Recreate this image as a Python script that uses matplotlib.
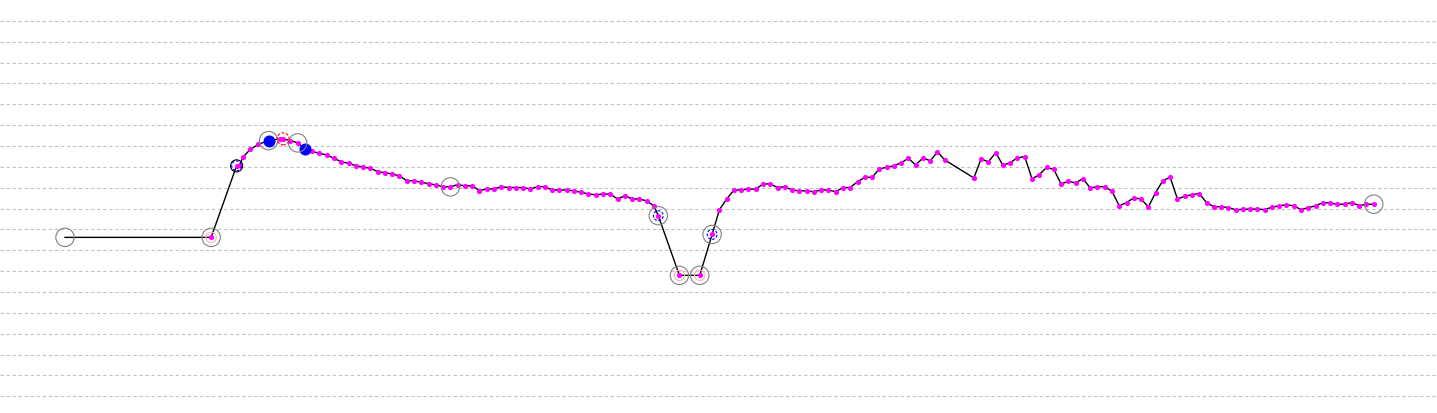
import matplotlib
matplotlib.use("Agg")
import matplotlib.pyplot as plt

# sample position (x) and value (y) of the track
x = [0, 20.1, 23.6, 24.0, 24.5, 25.5, 26.6, 28, 29.6, 30, 31, 32, 33,
     34, 35, 36, 37, 38, 39, 40, 41, 42, 43, 44, 45, 46, 47, 48, 49, 50,
     51, 52, 53, 54, 55, 56, 57, 58, 59, 60, 61, 62, 63, 64, 65, 66, 67,
     68, 69, 70, 71, 72, 73, 74, 75, 76, 77, 78, 79, 80, 81,
     81.6, 84.5, 87.3, 89.0,
     90, 91, 92, 93, 94, 95, 96, 97, 98, 99, 100, 101, 102, 103, 104, 105,
     106, 107, 108, 109, 110, 111, 112, 113, 114, 115, 116, 117, 118, 119,
     120, 121,
     125, 126, 127, 128, 129, 130, 131, 132, 133, 134, 135, 136, 137, 138,
     139, 140, 141, 142, 143, 144, 145, 146, 147, 148, 149, 150, 151, 152,
     153, 154, 155, 156, 157, 158, 159, 160, 161, 162, 163, 164, 165, 166,
     167, 168, 169, 170, 171, 172, 173, 174, 175, 176, 177, 178, 179, 180]

y = [7.62, 7.62, 11.05, 11.08, 11.48, 11.84, 12.08, 12.26, 12.34, 12.34,
     12.26, 12.15, 11.86, 11.74, 11.65, 11.57, 11.41, 11.24, 11.17, 11.06,
     10.98, 10.94, 10.77, 10.72, 10.66, 10.57, 10.34, 10.33, 10.26, 10.20,
     10.13, 10.05, 10.04, 10.15, 10.09, 10.10, 9.86, 9.94, 9.94, 10.05,
     10.01, 10.01, 10.01, 9.94, 10.05, 10.05, 9.89, 9.89, 9.89, 9.85,
     9.78, 9.70, 9.66, 9.70, 9.69, 9.46, 9.62, 9.46, 9.46, 9.37,
     9.13, 8.66, 5.80, 5.80, 7.76, 8.94, 9.46, 9.89, 9.89, 9.94,
     9.93, 10.18, 10.18, 10.01, 10.05, 9.89, 9.85, 9.85, 9.81, 9.89,
     9.89, 9.81, 10.01, 10.01, 10.29, 10.50, 10.50, 10.90, 10.98, 11.05,
     11.20, 11.41, 11.09, 11.43, 11.29, 11.72, 11.33, 10.47, 11.38, 11.24,
     11.68, 11.08, 11.20, 11.44, 11.49, 10.42, 10.63, 10.97, 10.88, 10.18,
     10.31, 10.23, 10.44, 9.99, 10.05, 10.05, 9.83, 9.13, 9.29, 9.51,
     9.46, 9.08, 9.77, 10.34, 10.50, 9.46, 9.59, 9.67, 9.72, 9.29,
     9.09, 9.09, 9.05, 8.94, 8.97, 8.97, 8.98, 8.95, 9.07, 9.13,
     9.19, 9.13, 8.95, 9.05, 9.13, 9.29, 9.27, 9.20, 9.22, 9.29,
     9.14, 9.21, 9.21]

# which samples carry the extra marks
gray_idx = [0, 1, 7, 11, 32, 61, 62, 63, 64, 152]
blue_fill_idx = [7, 12]
blue_dash_idx = [2, 61, 64]
black_ring_idx = [2]
pink_idx = [1, 62, 63]
red_dash_idx = [9]


def pick(idx):
    return [x[i] for i in idx], [y[i] for i in idx]


fig = plt.figure(figsize=(14.37, 4.13), dpi=100)
ax = fig.add_axes([0, 0, 1, 1])

ax.plot(x, y, color="black", lw=1.0, zorder=2)
ax.scatter(x[1:], y[1:], s=14, color="#ff00ff", linewidths=0, zorder=3)

px, py = pick(blue_fill_idx)
ax.scatter(px, py, s=75, color="#0000ff", linewidths=0, zorder=4)

px, py = pick(gray_idx)
ax.scatter(px, py, s=175, facecolors="none", edgecolors="#808080",
           linewidths=0.8, zorder=5)

px, py = pick(pink_idx)
ax.scatter(px, py, s=55, facecolors="none", edgecolors="#ffb0b8",
           linewidths=0.8, zorder=5)

px, py = pick(black_ring_idx)
ax.scatter(px, py, s=75, facecolors="none", edgecolors="black",
           linewidths=0.8, zorder=5)

px, py = pick(blue_dash_idx)
ax.scatter(px, py, s=50, facecolors="none", edgecolors="#0000ff",
           linewidths=0.8, linestyle=(0, (2.5, 1.5)), zorder=5)

px, py = pick(red_dash_idx)
ax.scatter(px, py, s=75, facecolors="none", edgecolors="#ff0000",
           linewidths=0.8, linestyle=(0, (2.5, 1.5)), zorder=5)

ax.set_xlim(-8.94, 188.7)
ax.set_ylim(-0.8, 19.0)
ax.set_yticks(range(0, 19))
ax.grid(True, axis="y", color="#c0c0c0", lw=0.75, ls=(0, (3.2, 2.6)))
ax.set_axisbelow(True)
ax.tick_params(left=False, bottom=False, labelleft=False, labelbottom=False)
for s in ax.spines.values():
    s.set_visible(False)

fig.savefig("out.png", dpi=100)
